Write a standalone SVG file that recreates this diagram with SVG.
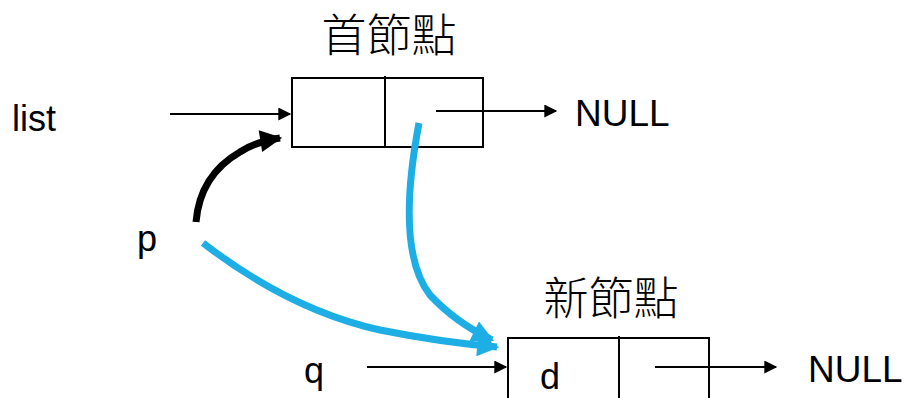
<svg xmlns="http://www.w3.org/2000/svg" width="907" height="398" viewBox="0 0 907 398">
<defs>
<style>
.t{font-family:"Liberation Sans","Noto Sans CJK TC",sans-serif;fill:#000}
.cjk{font-family:"Noto Sans CJK TC","Noto Sans CJK SC",sans-serif;font-weight:300;fill:#000}
.box{fill:none;stroke:#000;stroke-width:2}
.thin{fill:none;stroke:#000;stroke-width:2}
.blue{fill:none;stroke:#1EAEE6;stroke-width:7}
</style>
<marker id="ah" viewBox="0 0 10 10" refX="9" refY="5" markerWidth="15" markerHeight="13" orient="auto" markerUnits="userSpaceOnUse"><path d="M0,0 L10,5 L0,10 z" fill="#000"/></marker>
<marker id="ahw" viewBox="0 0 10 10" refX="9" refY="5" markerWidth="24" markerHeight="22" orient="auto" markerUnits="userSpaceOnUse"><path d="M0,0 L10,5 L0,10 z" fill="#000"/></marker>
<marker id="ahb" viewBox="0 0 10 10" refX="9" refY="5" markerWidth="24" markerHeight="22" orient="auto" markerUnits="userSpaceOnUse"><path d="M0,0 L10,5 L0,10 z" fill="#1EAEE6"/></marker>
</defs>
<text class="cjk" x="389" y="52" font-size="45" text-anchor="middle">首節點</text>
<text class="t" x="12" y="131" font-size="36">list</text>
<text class="t" x="137" y="251" font-size="36">p</text>
<text class="t" x="304" y="383" font-size="36">q</text>
<text class="t" x="575" y="126" font-size="37">NULL</text>
<text class="t" x="808" y="382" font-size="37">NULL</text>
<text class="cjk" x="611" y="315" font-size="45" text-anchor="middle">新節點</text>
<g id="head">
<rect class="box" x="292" y="78" width="191" height="69"/>
<line class="box" x1="385" y1="76" x2="385" y2="146"/>
</g>
<g id="newnode">
<rect class="box" x="508" y="338" width="201" height="70"/>
<line class="box" x1="619" y1="336" x2="619" y2="398"/>
<text class="t" x="540" y="389" font-size="36">d</text>
</g>
<g id="connectors">
<line class="thin" x1="170" y1="114" x2="290" y2="114" marker-end="url(#ah)"/>
<line class="thin" x1="436" y1="111" x2="556" y2="111" marker-end="url(#ah)"/>
<line class="thin" x1="367" y1="367" x2="506" y2="367" marker-end="url(#ah)"/>
<line class="thin" x1="655" y1="367" x2="776" y2="367" marker-end="url(#ah)"/>
<path d="M196,222 Q200,175 240,152 Q255,142 280,138" fill="none" stroke="#000" stroke-width="7" marker-end="url(#ahw)"/>
<path d="M419,123 Q395,250 430,295 Q455,322 492,340" class="blue" marker-end="url(#ahb)"/>
<path d="M203,243 Q290,310 380,330 Q440,342 497,347" class="blue" marker-end="url(#ahb)"/>
</g>
</svg>
